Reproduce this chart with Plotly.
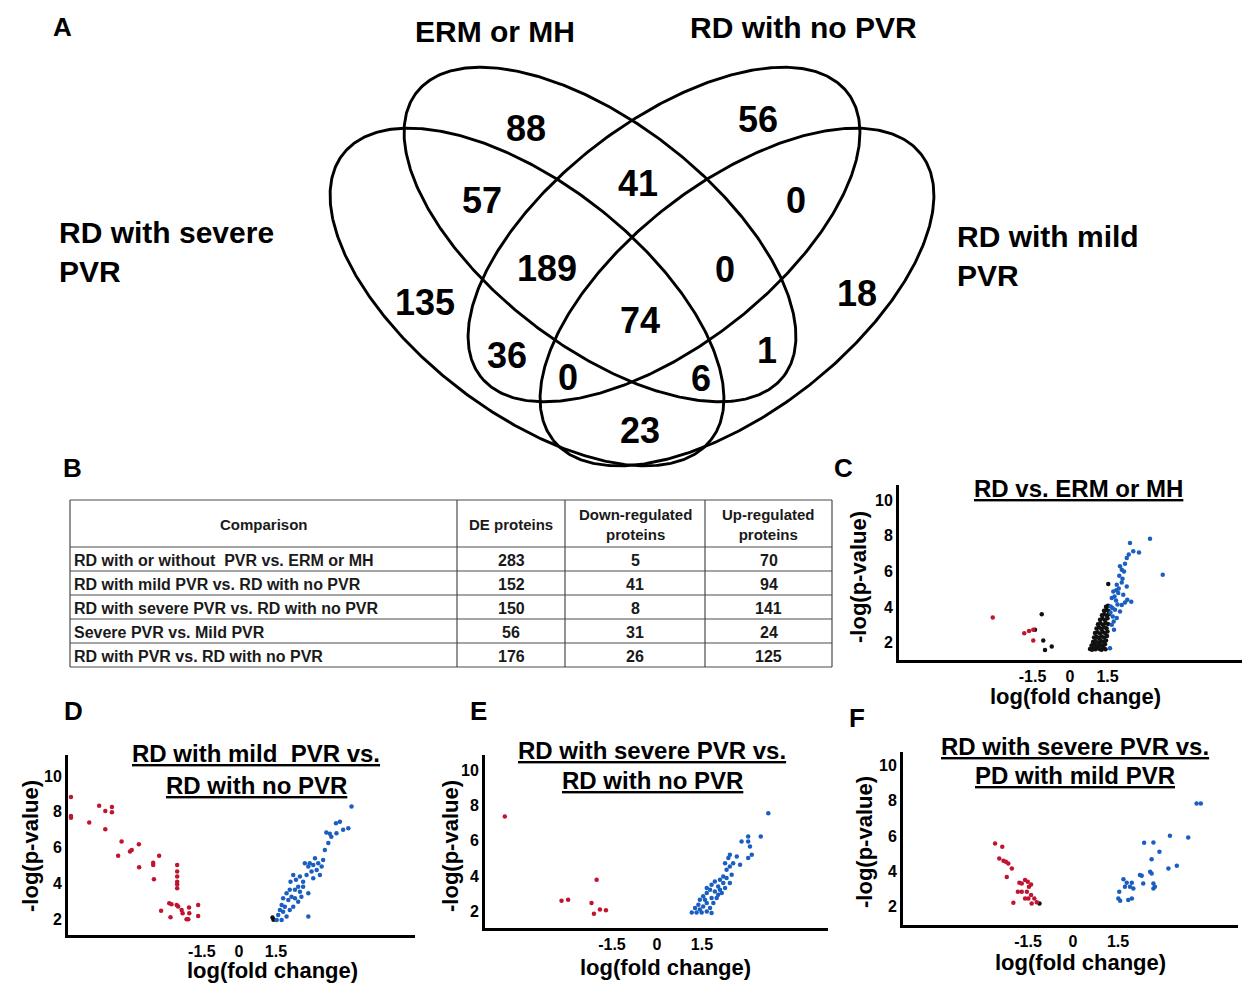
import numpy as np
import plotly.graph_objects as go

W, H = 1242, 983
FONT = "Liberation Sans, Arial, Helvetica, sans-serif"
RED = "#c0142f"
BLUE = "#1a5fc0"
BLACK = "#111111"

# ---------------- A: Venn diagram ----------------
venn_names = ["RD with severe<br>PVR", "ERM or MH", "RD with no PVR", "RD with mild<br>PVR"]
venn_counts = [88, 56, 57, 41, 0, 189, 0, 135, 18, 74, 36, 1, 0, 6, 23]
# label positions (pixels)
count_pos = [(526, 128), (758, 120), (482, 200), (638, 183), (796, 200), (547, 268), (725, 270),
             (425, 302), (857, 293), (640, 320), (507, 355), (767, 350), (568, 377), (701, 378), (640, 430)]
name_pos = [(57, 252, "left"), (495, 32, "center"), (803, 28, "center"), (955, 256, "left")]
# ellipse geometry (cx, cy, a, b, angle deg) in pixels
ellipse_geom = [(527, 297, 233, 114, 37.8), (600, 234.5, 232, 112, 37.7),
                (664, 234.5, 232, 112, 142.3), (737, 297, 233, 114, 142.2)]

# ---------------- B: table ----------------
table_header = ["Comparison", "DE proteins", "Down-regulated<br>proteins", "Up-regulated<br>proteins"]
comparisons = ["RD with or without  PVR vs. ERM or MH", "RD with mild PVR vs. RD with no PVR",
               "RD with severe PVR vs. RD with no PVR", "Severe PVR vs. Mild PVR",
               "RD with PVR vs. RD with no PVR"]
de_proteins = [283, 152, 150, 56, 176]
down_reg = [5, 41, 8, 31, 26]
up_reg = [70, 94, 141, 24, 125]

# ---------------- C: RD vs ERM or MH ----------------
C_red_x = [-3.09, -1.83, -1.64, -1.47, -1.47]
C_red_y = [3.42, 2.54, 2.67, 2.73, 2.13]
C_blue_x = [3.20, 2.40, 2.53, 2.76, 2.27, 2.20, 2.07, 2.16, 1.97, 2.07, 1.87, 2.27, 1.73, 1.93, 2.13, 1.67,
            1.84, 2.20, 2.07, 1.63, 1.80, 2.00, 1.71, 1.87, 1.67, 1.76, 1.60, 3.71, 2.29, 2.10, 1.95, 1.78,
            1.90, 1.62, 1.75, 2.35, 2.00, 1.70, 1.85, 2.45]
C_blue_y = [7.84, 7.60, 7.13, 7.07, 6.76, 6.44, 6.10, 6.00, 5.76, 5.39, 5.26, 5.16, 4.88, 4.79, 4.70, 4.51,
            4.38, 4.27, 4.13, 4.04, 3.85, 3.76, 3.48, 3.39, 3.01, 2.73, 1.70, 5.82, 4.42, 5.60, 5.05, 4.60,
            4.15, 3.70, 3.20, 6.95, 6.30, 3.95, 4.95, 4.30]
C_black_x = [-1.13, -1.40, -1.07, -1.00, -0.73, 1.53,
             0.80, 0.88, 0.95, 1.02, 1.10, 1.18, 1.26, 1.35, 1.42,
             0.86, 0.97, 1.08, 1.20, 1.30, 1.40,
             0.92, 1.02, 1.12, 1.22, 1.32, 1.44,
             0.96, 1.06, 1.16, 1.26, 1.36, 1.48,
             1.00, 1.10, 1.20, 1.30, 1.40, 1.50,
             1.06, 1.16, 1.26, 1.36, 1.46,
             1.12, 1.22, 1.32, 1.42, 1.52,
             1.20, 1.30, 1.40, 1.50,
             1.28, 1.38, 1.48, 1.56,
             1.36, 1.46, 1.54,
             1.44, 1.52]
C_black_y = [3.61, 2.73, 2.13, 1.60, 1.79, 5.30,
             1.65, 1.62, 1.70, 1.64, 1.72, 1.66, 1.62, 1.70, 1.64,
             1.85, 1.90, 1.82, 1.88, 1.84, 1.92,
             2.05, 2.10, 2.02, 2.12, 2.06, 2.14,
             2.30, 2.34, 2.28, 2.36, 2.30, 2.38,
             2.55, 2.60, 2.52, 2.62, 2.56, 2.64,
             2.80, 2.86, 2.78, 2.88, 2.82,
             3.05, 3.10, 3.02, 3.12, 3.06,
             3.30, 3.36, 3.28, 3.38,
             3.55, 3.60, 3.52, 3.62,
             3.80, 3.86, 3.78,
             4.02, 4.08]

# ---------------- D: mild PVR vs no PVR ----------------
D_red_x = [-6.80, -6.80, -6.80, -6.06, -5.66, -5.41, -5.41, -5.14, -5.14, -4.75, -4.89, -4.41, -4.34, -4.05,
           -4.04, -3.47, -3.47, -3.23, -3.44, -3.15, -2.50, -2.50, -2.50, -2.50, -2.50, -2.50, -2.82, -2.73,
           -2.52, -2.46, -2.32, -2.28, -2.12, -2.05, -2.02, -2.01, -1.65, -1.65, -2.77]
D_red_y = [8.83, 7.77, 7.66, 7.40, 8.33, 8.05, 7.03, 8.26, 7.98, 6.34, 5.55, 5.78, 5.87, 6.19,
           4.90, 5.16, 5.03, 5.54, 4.23, 2.48, 5.03, 4.66, 4.38, 4.10, 3.96, 3.73, 2.89, 2.84,
           2.80, 2.71, 2.52, 2.34, 2.00, 2.00, 2.65, 2.34, 2.80, 2.18, 2.11]
D_blue_x = [4.56, 4.43, 3.93, 3.95, 3.68, 3.54, 3.74, 3.62, 3.48, 3.41, 3.35, 3.21, 3.08, 3.01, 2.87, 2.81,
            2.67, 2.74, 2.47, 2.60, 2.40, 2.20, 2.09, 2.27, 2.06, 1.93, 2.13, 1.79, 2.00, 1.73, 1.86, 1.66,
            1.79, 1.59, 1.53, 1.73, 1.93, 2.20, 2.40, 2.53, 2.47, 2.81, 2.81, 2.31, 2.94, 3.15, 4.09, 4.22,
            3.28, 2.06, 2.27, 2.60, 3.01]
D_blue_y = [8.29, 7.08, 7.36, 6.80, 6.77, 6.84, 6.61, 6.25, 5.87, 5.31, 4.94, 5.13, 5.41, 5.03, 5.13, 4.94,
            5.13, 4.47, 4.38, 4.10, 3.82, 4.47, 4.10, 3.64, 3.64, 3.45, 3.26, 3.17, 3.08, 2.80, 2.70, 2.52,
            2.42, 2.24, 1.96, 1.96, 2.15, 2.70, 2.98, 3.26, 3.54, 3.45, 2.15, 4.20, 4.66, 4.75, 7.45, 6.99,
            4.47, 2.52, 3.17, 3.82, 4.29]
D_black_x = [1.36, 1.40]
D_black_y = [2.10, 1.97]

# ---------------- E: severe PVR vs no PVR ----------------
E_red_x = [-5.07, -3.18, -2.96, -2.18, -2.01, -2.10, -1.90, -1.70]
E_red_y = [7.37, 2.60, 2.66, 2.47, 3.79, 1.87, 2.10, 2.06]
E_blue_x = [3.71, 3.46, 3.04, 3.04, 2.82, 3.10, 3.16, 3.04, 2.77, 2.66, 2.43, 2.38, 2.54, 2.27, 2.43, 2.21,
            2.10, 2.32, 2.43, 1.93, 1.82, 2.04, 1.77, 1.93, 1.66, 1.54, 1.82, 1.43, 1.66, 1.38, 1.54, 1.27,
            1.43, 1.16, 1.32, 1.49, 1.66, 1.82, 1.99, 2.16, 2.10, 2.27, 2.21, 1.88, 1.77, 2.04, 1.60, 2.49,
            2.32, 1.66]
E_blue_y = [7.56, 6.24, 6.24, 5.95, 5.95, 5.67, 5.20, 5.02, 4.64, 5.11, 5.20, 5.02, 4.73, 4.73, 4.54, 3.98,
            3.79, 3.89, 3.60, 3.69, 3.51, 3.41, 3.23, 3.13, 3.04, 2.85, 2.76, 2.66, 2.47, 2.38, 2.28, 2.19,
            2.10, 1.94, 1.94, 1.94, 2.00, 1.91, 2.76, 3.04, 3.23, 3.32, 3.60, 2.47, 2.19, 2.94, 2.66, 4.07,
            4.36, 3.32]

# ---------------- F: severe PVR vs mild PVR ----------------
F_red_x = [-2.60, -2.36, -2.46, -2.32, -2.24, -2.16, -2.04, -2.21, -1.79, -1.71, -1.60, -1.51, -1.47, -1.40,
           -1.84, -1.71, -1.54, -1.40, -1.60, -1.99, -1.49, -1.29, -1.21, -1.38]
F_red_y = [5.58, 5.39, 4.73, 4.60, 4.54, 4.45, 4.17, 3.69, 3.36, 3.32, 3.51, 3.41, 3.13, 3.26,
           2.85, 2.85, 2.85, 2.66, 2.47, 2.23, 2.47, 2.47, 2.25, 2.19]
F_blue_x = [4.12, 4.26, 3.23, 3.84, 2.68, 2.37, 2.88, 2.62, 3.46, 3.18, 2.23, 2.29, 2.57, 2.62, 2.68, 2.73,
            2.34, 1.96, 1.68, 1.79, 1.73, 1.90, 2.01, 1.54, 1.51, 1.57, 1.84, 1.96, 2.68]
F_blue_y = [7.84, 7.84, 6.01, 5.92, 5.64, 5.62, 5.11, 4.68, 4.32, 4.17, 3.79, 3.75, 3.98, 3.88, 3.32, 3.13,
            3.32, 3.36, 3.56, 3.36, 3.13, 3.13, 3.04, 2.85, 2.47, 2.34, 2.38, 2.47, 3.04]
F_black_x = [-1.12]
F_black_y = [2.19]

x_tickvals = [-1.5, 0, 1.5]
x_ticktext = ["-1.5", "0", "1.5"]
y_tickvals = [2, 4, 6, 8, 10]

# ---------------- figure ----------------
fig = go.Figure()


def px(x):
    return x / W


def py(y):
    return 1 - y / H


# Venn ellipses on an overlay axis in pixel space
for (cx, cy, a, b, ang) in ellipse_geom:
    t = np.linspace(0, 2 * np.pi, 500)
    th = np.radians(ang)
    ex = cx + a * np.cos(t) * np.cos(th) - b * np.sin(t) * np.sin(th)
    ey = cy + a * np.cos(t) * np.sin(th) + b * np.sin(t) * np.cos(th)
    fig.add_trace(go.Scatter(x=ex, y=ey, mode="lines", line=dict(color="black", width=2.9),
                             xaxis="x5", yaxis="y5", hoverinfo="skip", showlegend=False))

panels = [
    ("x", "y", C_red_x, C_red_y, C_blue_x, C_blue_y, C_black_x, C_black_y),
    ("x2", "y2", D_red_x, D_red_y, D_blue_x, D_blue_y, D_black_x, D_black_y),
    ("x3", "y3", E_red_x, E_red_y, E_blue_x, E_blue_y, [], []),
    ("x4", "y4", F_red_x, F_red_y, F_blue_x, F_blue_y, F_black_x, F_black_y),
]
for xa, ya, rx, ry, bx, by, kx, ky in panels:
    for xs, ys, col in [(kx, ky, BLACK), (bx, by, BLUE), (rx, ry, RED)]:
        if len(xs):
            fig.add_trace(go.Scatter(x=xs, y=ys, mode="markers", xaxis=xa, yaxis=ya,
                                     marker=dict(color=col, size=4.5, line=dict(width=0)),
                                     showlegend=False, hoverinfo="skip"))

tickfont = dict(family=FONT, size=16, color="black", weight="bold")


def xax(dom, rng, anchor):
    return dict(domain=dom, range=rng, anchor=anchor, showline=True, linewidth=3, linecolor="black",
                showgrid=False, zeroline=False, ticks="", tickvals=x_tickvals, ticktext=x_ticktext,
                tickfont=tickfont, fixedrange=True)


def yax(dom, rng, anchor):
    return dict(domain=dom, range=rng, anchor=anchor, showline=True, linewidth=3, linecolor="black",
                showgrid=False, zeroline=False, ticks="", tickvals=y_tickvals,
                tickfont=tickfont, fixedrange=True)


layout = dict(
    width=W, height=H, margin=dict(l=0, r=0, t=0, b=0), paper_bgcolor="white", plot_bgcolor="rgba(0,0,0,0)",
    showlegend=False,
    xaxis=xax([899 / W, 1.0], [-6.84, 6.88], "y"),
    yaxis=yax([py(660), py(485)], [1.04, 10.85], "x"),
    xaxis2=xax([68 / W, 415 / W], [-6.92, 7.13], "y2"),
    yaxis2=yax([py(935), py(755)], [1.12, 11.17], "x2"),
    xaxis3=xax([485 / W, 828 / W], [-5.73, 5.70], "y3"),
    yaxis3=yax([py(928), py(755)], [1.06, 10.85], "x3"),
    xaxis4=xax([903 / W, 1238 / W], [-5.67, 5.50], "y4"),
    yaxis4=yax([py(925), py(752)], [0.97, 10.75], "x4"),
    xaxis5=dict(domain=[0, 1], range=[0, W], visible=False, fixedrange=True, anchor="y5"),
    yaxis5=dict(domain=[0, 1], range=[H, 0], visible=False, fixedrange=True, anchor="x5"),
)
fig.update_layout(**layout)

annotations = []
shapes = []


def ann(text, x, y, size, xanchor="center", align="center", angle=0, weight="bold", color="black"):
    annotations.append(dict(text=text, x=px(x), y=py(y), xref="paper", yref="paper", showarrow=False,
                            xanchor=xanchor, yanchor="middle", align=align, textangle=angle,
                            font=dict(family=FONT, size=size, color=color, weight=weight)))


def hline(x0, x1, y, width=1.2, color="#4a4a4a"):
    shapes.append(dict(type="line", xref="paper", yref="paper", x0=px(x0), x1=px(x1), y0=py(y), y1=py(y),
                       line=dict(color=color, width=width)))


def vline(x, y0, y1, width=1.2, color="#4a4a4a"):
    shapes.append(dict(type="line", xref="paper", yref="paper", x0=px(x), x1=px(x), y0=py(y0), y1=py(y1),
                       line=dict(color=color, width=width)))


# panel letters
for letter, (lx, ly) in zip("ABCDEF", [(62, 27), (72, 468), (843, 468), (73, 711), (478, 711), (857, 718)]):
    ann(letter, lx, ly, 26)

# venn set names and counts
for name, (nx, ny, anc) in zip(venn_names, name_pos):
    ann(name, nx, ny, 30, xanchor=anc, align="left")
for cnt, (cx_, cy_) in zip(venn_counts, count_pos):
    ann(str(cnt), cx_, cy_, 36)

# ---- table B built from the arrays ----
col_edges = [70, 457, 565, 705, 832]
row_edges = [500, 547, 571, 595, 619, 643, 667]
for yv in row_edges:
    hline(col_edges[0], col_edges[-1], yv)
for xv in col_edges:
    vline(xv, row_edges[0], row_edges[-1])
for j, htxt in enumerate(table_header):
    ann(htxt, (col_edges[j] + col_edges[j + 1]) / 2, (row_edges[0] + row_edges[1]) / 2 + 1, 15,
        color="#1a1a1a")
for i in range(len(comparisons)):
    yc = (row_edges[i + 1] + row_edges[i + 2]) / 2 + 1
    ann(comparisons[i], col_edges[0] + 2, yc, 16, xanchor="left", align="left", color="#1a1a1a")
    for j, vals in enumerate([de_proteins, down_reg, up_reg]):
        ann(str(vals[i]), (col_edges[j + 1] + col_edges[j + 2]) / 2, yc, 16, color="#1a1a1a")

# volcano titles (underlined)
titles = [("RD vs. ERM or MH", 1078, 488),
          ("RD with mild  PVR vs.", 256, 753), ("RD with no PVR", 256, 785),
          ("RD with severe PVR vs.", 652, 750), ("RD with no PVR", 652, 780),
          ("RD with severe PVR vs.", 1075, 746), ("PD with mild PVR", 1075, 775)]
for tt, tx, ty in titles:
    ann(f"<u>{tt}</u>", tx, ty, 24)

# axis titles
for (yx, yy), (xx, xy) in [((858, 577), (1075, 696)), ((30, 846), (272, 970)),
                           ((450, 846), (665, 967)), ((864, 842), (1080, 962))]:
    ann("-log(p-value)", yx, yy, 22, angle=-90)
    ann("log(fold change)", xx, xy, 22)

fig.update_layout(annotations=annotations, shapes=shapes)

fig.write_html("out.html", config={"displayModeBar": False},
               post_script="document.body.style.margin='0px';")
